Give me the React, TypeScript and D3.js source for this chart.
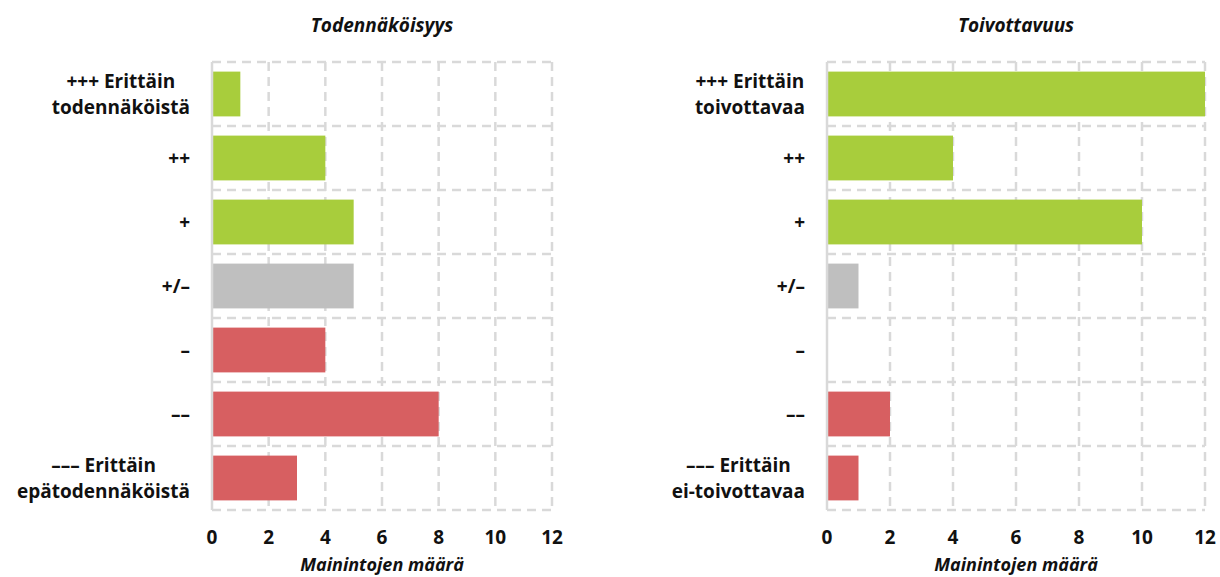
import React, { useRef, useEffect } from "react";
import * as d3 from "d3";

const categories = [
  ["+++ Erittäin", "todennäköistä"],
  ["++"],
  ["+"],
  ["+/–"],
  ["–"],
  ["––"],
  ["––– Erittäin", "epätodennäköistä"],
];
const categories2 = [
  ["+++ Erittäin", "toivottavaa"],
  ["++"],
  ["+"],
  ["+/–"],
  ["–"],
  ["––"],
  ["––– Erittäin", "ei-toivottavaa"],
];
const todennakoisyys = [1, 4, 5, 5, 4, 8, 3];
const toivottavuus = [12, 4, 10, 1, 0, 2, 1];
const barColors = ["#a8cd3c", "#a8cd3c", "#a8cd3c", "#bfbfbf", "#d75f61", "#d75f61", "#d75f61"];
const ticks = [0, 2, 4, 6, 8, 10, 12];
const titles = ["Todennäköisyys", "Toivottavuus"];
const xTitle = "Mainintojen määrä";

const W = 1220;
const H = 577;
const FONT = "'Open Sans', sans-serif";

const App = () => {
  const wrapper = useRef(null);

  useEffect(() => {
    document.body.style.margin = "0";
    const root = d3.select(wrapper.current);
    root.selectAll("svg").remove();
    const svg = root.append("svg").attr("width", W).attr("height", H).style("display", "block");

    const panels = [
      { x0: 212, x1: 552, labels: categories, values: todennakoisyys, title: titles[0] },
      { x0: 827, x1: 1205, labels: categories2, values: toivottavuus, title: titles[1] },
    ];
    const top = 62;
    const bottom = 510;

    panels.forEach((p) => {
      const x = d3.scaleLinear().domain([0, 12]).range([p.x0, p.x1]);
      const y = d3
        .scaleBand()
        .domain(p.labels.map((d, i) => String(i)))
        .range([top, bottom])
        .paddingInner(0.3)
        .paddingOuter(0.15);
      const step = y.step();
      const g = svg.append("g");

      // grid
      const grid = g.append("g").attr("stroke", "#d9d9d9").attr("stroke-width", 2.5).attr("stroke-dasharray", "9,6");
      ticks.slice(1).forEach((t) => {
        grid.append("line").attr("x1", x(t)).attr("x2", x(t)).attr("y1", top).attr("y2", bottom);
      });
      for (let i = 0; i <= p.labels.length; i++) {
        const yy = top + i * step;
        grid.append("line").attr("x1", p.x0).attr("x2", p.x1).attr("y1", yy).attr("y2", yy);
      }

      // bars
      g.selectAll("rect.bar")
        .data(p.values)
        .enter()
        .append("rect")
        .attr("x", x(0) + 1)
        .attr("y", (d, i) => y(String(i)))
        .attr("width", (d) => Math.max(0, x(d) - x(0) - 1))
        .attr("height", y.bandwidth())
        .attr("fill", (d, i) => barColors[i]);

      // y axis line
      g.append("line")
        .attr("x1", x(0))
        .attr("x2", x(0))
        .attr("y1", top)
        .attr("y2", bottom)
        .attr("stroke", "#d9d9d9")
        .attr("stroke-width", 2.5);

      // category labels: block right-aligned, lines centred in the block
      const lx = p.x0 - 22;
      p.labels.forEach((lines, i) => {
        const cy = y(String(i)) + y.bandwidth() / 2;
        const t = g
          .append("text")
          .attr("font-family", FONT)
          .attr("font-weight", "bold")
          .attr("font-size", 19)
          .attr("fill", "#111");
        const lh = 26;
        lines.forEach((line, j) => {
          t.append("tspan")
            .attr("y", cy + (j - (lines.length - 1) / 2) * lh + 7)
            .text(line);
        });
        const spans = t.selectAll("tspan").nodes();
        const widths = spans.map((n) => n.getComputedTextLength());
        const maxW = Math.max(...widths);
        if (lines.length === 1) {
          t.selectAll("tspan").attr("x", lx).attr("text-anchor", "end");
        } else {
          t.selectAll("tspan").attr("x", lx - maxW / 2).attr("text-anchor", "middle");
        }
      });

      // ticks
      g.selectAll("text.tick")
        .data(ticks)
        .enter()
        .append("text")
        .attr("x", (d) => x(d))
        .attr("y", 544)
        .attr("text-anchor", "middle")
        .attr("font-family", FONT)
        .attr("font-weight", "bold")
        .attr("font-size", 19)
        .attr("fill", "#111")
        .text((d) => d);

      const cx = (p.x0 + p.x1) / 2;
      g.append("text")
        .attr("x", cx)
        .attr("y", 32)
        .attr("text-anchor", "middle")
        .attr("font-family", FONT)
        .attr("font-weight", "bold")
        .attr("font-style", "italic")
        .attr("font-size", 19)
        .attr("fill", "#111")
        .text(p.title);

      g.append("text")
        .attr("x", cx)
        .attr("y", 571)
        .attr("text-anchor", "middle")
        .attr("font-family", FONT)
        .attr("font-weight", "bold")
        .attr("font-style", "italic")
        .attr("font-size", 18)
        .attr("fill", "#111")
        .text(xTitle);
    });
  }, []);

  return <div ref={wrapper}></div>;
};

export default App;
